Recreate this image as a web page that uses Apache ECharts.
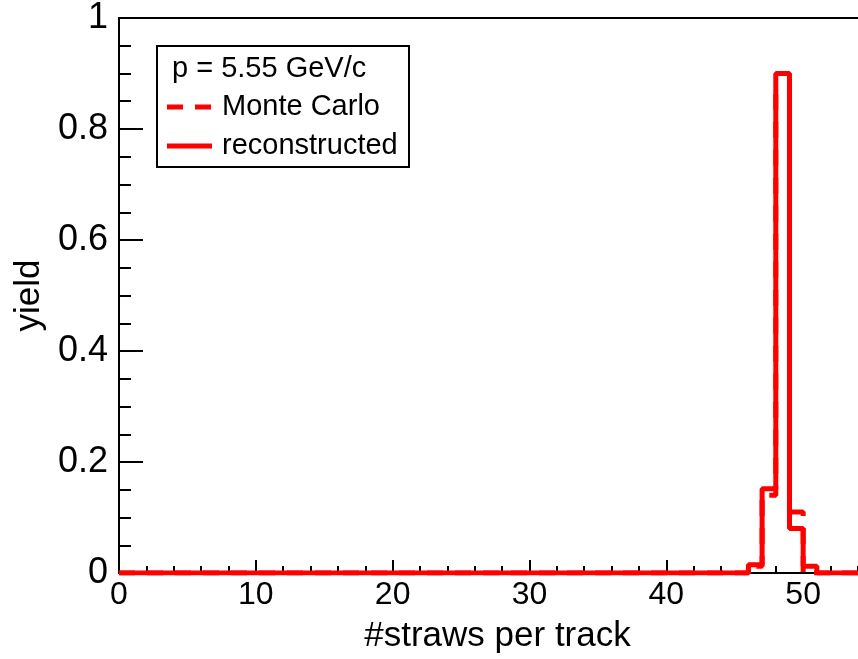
<!DOCTYPE html>
<html>
<head>
<meta charset="utf-8">
<script src="https://cdn.jsdelivr.net/npm/echarts@6/dist/echarts.min.js"></script>
<style>
  html, body { margin: 0; padding: 0; background: #fff; }
  #chart { width: 858px; height: 659px; }
</style>
</head>
<body>
<div id="chart"></div>
<script>
// Histogram: number of straw hits per track, 1-straw bins from 0 to 60.
const binLowEdges = [
   0,  1,  2,  3,  4,  5,  6,  7,  8,  9,
  10, 11, 12, 13, 14, 15, 16, 17, 18, 19,
  20, 21, 22, 23, 24, 25, 26, 27, 28, 29,
  30, 31, 32, 33, 34, 35, 36, 37, 38, 39,
  40, 41, 42, 43, 44, 45, 46, 47, 48, 49,
  50, 51, 52, 53, 54, 55, 56, 57, 58, 59
];
const binUpperEdge = 60;

// Monte Carlo truth (dashed)
const monteCarloYield = [
  0, 0, 0, 0, 0, 0, 0, 0, 0, 0,
  0, 0, 0, 0, 0, 0, 0, 0, 0, 0,
  0, 0, 0, 0, 0, 0, 0, 0, 0, 0,
  0, 0, 0, 0, 0, 0, 0, 0, 0, 0,
  0, 0, 0, 0, 0, 0, 0.012, 0.140, 0.862, 0.110,
  0, 0, 0, 0, 0, 0, 0, 0, 0, 0
];

// Reconstructed tracks (solid)
const reconstructedYield = [
  0, 0, 0, 0, 0, 0, 0, 0, 0, 0,
  0, 0, 0, 0, 0, 0, 0, 0, 0, 0,
  0, 0, 0, 0, 0, 0, 0, 0, 0, 0,
  0, 0, 0, 0, 0, 0, 0, 0, 0, 0,
  0, 0, 0, 0, 0, 0, 0.015, 0.152, 0.900, 0.080,
  0.012, 0, 0, 0, 0, 0, 0, 0, 0, 0
];

const xTicks = { min: 0, max: 60, step: 10, minorSplit: 5 };
const yTicks = { min: 0, max: 1, step: 0.2, minorSplit: 4 };

const momentumLabel = 'p = 5.55 GeV/c';
const seriesNames = ['Monte Carlo', 'reconstructed'];
const xTitle = '#straws per track';
const yTitle = 'yield';

// Turn bin contents into step-line points: one point per low edge plus the closing upper edge.
function stepPoints(values) {
  const pts = binLowEdges.map((x, i) => [x, values[i]]);
  pts.push([binUpperEdge, values[values.length - 1]]);
  return pts;
}

const FONT = '"Liberation Sans", Arial, Helvetica, sans-serif';
const RED = '#ff0000';
const MC_DASH = [16, 12];
const LINE_W = 5;

const chart = echarts.init(document.getElementById('chart'), null, { renderer: 'canvas' });

const axisCommon = {
  axisLine: { show: true, onZero: false, lineStyle: { color: '#000', width: 2 } },
  splitLine: { show: false },
  nameTextStyle: { color: '#000', fontFamily: FONT, fontSize: 35 }
};

// Boxed key in the upper left: header line, then one row per histogram.
const keyBox = { x: 157, y: 46, w: 252, h: 121 };
const keyRows = [
  { name: seriesNames[0], dash: MC_DASH, cy: 107 },
  { name: seriesNames[1], dash: null, cy: 146 }
];
const keyGraphics = [
  {
    type: 'rect', z: 10,
    shape: { x: keyBox.x, y: keyBox.y, width: keyBox.w, height: keyBox.h },
    style: { fill: '#fff', stroke: '#000', lineWidth: 2 }
  },
  {
    type: 'text', z: 11, x: 172, y: 69,
    style: { text: momentumLabel, fill: '#000', font: '29px ' + FONT, verticalAlign: 'middle', align: 'left' }
  }
];
keyRows.forEach(row => {
  keyGraphics.push({
    type: 'line', z: 11,
    shape: { x1: 167, y1: row.cy, x2: 212, y2: row.cy },
    style: { stroke: RED, lineWidth: LINE_W, lineDash: row.dash || null }
  });
  keyGraphics.push({
    type: 'text', z: 11, x: 222, y: row.cy,
    style: { text: row.name, fill: '#000', font: '29px ' + FONT, verticalAlign: 'middle', align: 'left' }
  });
});

chart.setOption({
  backgroundColor: '#fff',
  animation: false,
  grid: {
    left: 119, top: 18, right: -82, bottom: 86,
    containLabel: false,
    outerBoundsMode: 'none',
    show: true, borderColor: '#000', borderWidth: 2, backgroundColor: 'transparent'
  },
  xAxis: Object.assign({}, axisCommon, {
    type: 'value',
    min: xTicks.min, max: xTicks.max, interval: xTicks.step,
    name: xTitle,
    nameLocation: 'middle',
    nameGap: 46,
    nameTextStyle: Object.assign({}, axisCommon.nameTextStyle, { padding: [0, 64, 0, 0] }),
    axisTick: { show: true, inside: true, length: 13, lineStyle: { color: '#000', width: 2 } },
    minorTick: { show: true, splitNumber: xTicks.minorSplit, length: 7, lineStyle: { color: '#000', width: 2 } },
    axisLabel: { color: '#000', fontFamily: FONT, fontSize: 32, margin: 6 }
  }),
  yAxis: Object.assign({}, axisCommon, {
    type: 'value',
    min: yTicks.min, max: yTicks.max, interval: yTicks.step,
    name: yTitle,
    nameLocation: 'middle',
    nameGap: 68,
    axisTick: { show: true, inside: true, length: 24, lineStyle: { color: '#000', width: 2 } },
    minorTick: { show: true, splitNumber: yTicks.minorSplit, length: 12, lineStyle: { color: '#000', width: 2 } },
    axisLabel: { color: '#000', fontFamily: FONT, fontSize: 36, margin: 11 }
  }),
  graphic: keyGraphics,
  series: [
    {
      name: seriesNames[1],
      type: 'line',
      step: 'end',
      symbol: 'none',
      data: stepPoints(reconstructedYield),
      color: RED,
      lineStyle: { color: RED, width: LINE_W, type: 'solid' },
      z: 3
    },
    {
      name: seriesNames[0],
      type: 'line',
      step: 'end',
      symbol: 'none',
      data: stepPoints(monteCarloYield),
      color: RED,
      lineStyle: { color: RED, width: LINE_W, type: MC_DASH },
      z: 4
    }
  ]
});
</script>
</body>
</html>
